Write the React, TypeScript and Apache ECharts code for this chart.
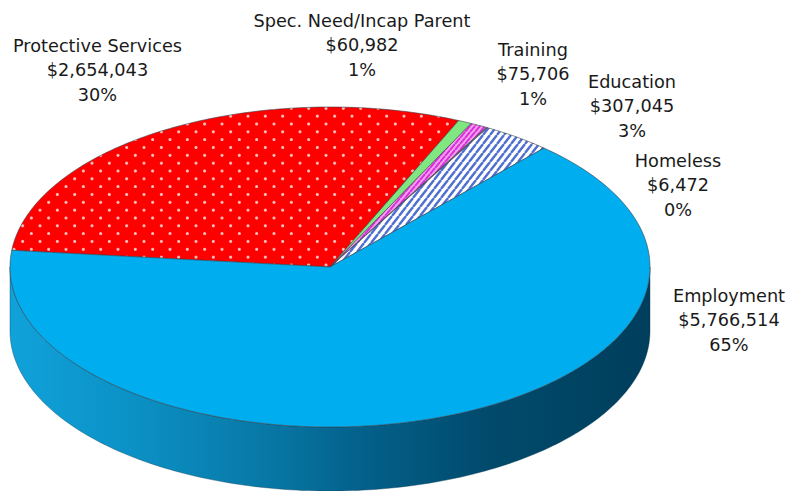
import React, { useEffect, useRef } from "react";
import * as echarts from "echarts";

const categories = ["Protective Services", "Spec. Need/Incap Parent", "Training", "Homeless", "Education", "Employment"];
const values = [2654043, 60982, 75706, 6472, 307045, 5766514];

const CX = 330, CY = 267, RX = 320, RY = 160, DEPTH = 64, START_DEG = 174;
const FONT = "'DejaVu Sans', sans-serif";
const LABEL_POS: Record<string, [number, number]> = {
  "Protective Services": [97.5, 70],
  "Spec. Need/Incap Parent": [362, 45],
  "Training": [533, 74],
  "Education": [632, 106],
  "Homeless": [678, 185],
  "Employment": [729, 320],
};

function tile(w: number, h: number, draw: (c: CanvasRenderingContext2D) => void) {
  const cv = document.createElement("canvas");
  cv.width = w; cv.height = h;
  draw(cv.getContext("2d")!);
  return { image: cv, repeat: "repeat", imageWidth: w, imageHeight: h } as any;
}
function dots() {
  return tile(52, 47, (c) => {
    c.fillStyle = "#ff0000"; c.fillRect(0, 0, 52, 47);
    for (let row = 0; row < 6; row++) {
      const y = (14.33 + row * 7.833) % 47;
      for (let col = 0; col < 3; col++) {
        const x = (14 + (row % 2) * 8.67 + col * 17.33) % 52;
        const g = c.createRadialGradient(x, y, 0, x, y, 2.3);
        g.addColorStop(0, "#ffdada");
        g.addColorStop(0.55, "#ff9c9c");
        g.addColorStop(1, "rgba(255,0,0,0)");
        c.fillStyle = g;
        c.beginPath(); c.arc(x, y, 2.3, 0, Math.PI * 2); c.fill();
      }
    }
  });
}
function stripes(bg: string, fg: string, w: number, h: number, lw: number) {
  return tile(w, h, (c) => {
    c.fillStyle = bg; c.fillRect(0, 0, w, h);
    c.strokeStyle = fg; c.lineWidth = lw;
    for (let k = -2 * w; k <= w * 2; k += w) {
      c.beginPath(); c.moveTo(k, h); c.lineTo(k + w, 0); c.stroke();
    }
  });
}

function arcPoints(a0: number, a1: number, dy = 0) {
  const n = Math.max(2, Math.ceil(Math.abs(a1 - a0) / 1));
  const pts: number[][] = [];
  for (let i = 0; i <= n; i++) {
    const t = ((a0 + ((a1 - a0) * i) / n) * Math.PI) / 180;
    pts.push([CX + RX * Math.cos(t), CY - RY * Math.sin(t) + dy]);
  }
  return pts;
}

export default function App() {
  const ref = useRef<HTMLDivElement>(null);
  useEffect(() => {
    const chart = echarts.init(ref.current!, undefined, { renderer: "svg" });
    const total = values.reduce((a, b) => a + b, 0);
    const fills: Record<string, any> = {
      "Protective Services": dots(),
      "Spec. Need/Incap Parent": "#80e680",
      "Training": stripes("#f4a0f0", "#d830d8", 5, 6, 2),
      "Homeless": "#6b6b78",
      "Education": stripes("#ffffff", "#4f6fd0", 7, 9, 2.4),
      "Employment": "#00aeef",
    };
    const money = (v: number) => "$" + v.toLocaleString("en-US");
    chart.setOption({
      animation: false,
      backgroundColor: "#ffffff",
      series: [
        {
          type: "custom",
          coordinateSystem: "none",
          silent: true,
          data: [total],
          renderItem: () => {
            const top = arcPoints(180, 360, 0);
            const bottom = arcPoints(360, 180, DEPTH);
            return {
              type: "polygon",
              shape: { points: [...top, ...bottom] },
              style: {
                stroke: "#0b3c55",
                lineWidth: 0.4,
                fill: new echarts.graphic.LinearGradient(0, 0, 1, 0, [
                  { offset: 0, color: "#10a2da" },
                  { offset: 0.2, color: "#0b90c4" },
                  { offset: 0.4, color: "#0878a6" },
                  { offset: 0.55, color: "#03608a" },
                  { offset: 0.75, color: "#014a6c" },
                  { offset: 1, color: "#003e5c" },
                ]),
              },
            };
          },
        },
        {
          type: "custom",
          coordinateSystem: "none",
          silent: true,
          data: values,
          renderItem: (params: any, api: any) => {
            const i = params.dataIndex;
            const before = values.slice(0, i).reduce((a, b) => a + b, 0);
            const v = api.value(0);
            const a0 = START_DEG - (before / total) * 360;
            const a1 = a0 - (v / total) * 360;
            const name = categories[i];
            return {
              type: "polygon",
              shape: { points: [[CX, CY], ...arcPoints(a0, a1)] },
              style: { fill: fills[name], stroke: "#3a3f4a", lineWidth: 0.6, lineJoin: "round" },
            };
          },
        },
        {
          type: "custom",
          coordinateSystem: "none",
          silent: true,
          data: values,
          renderItem: (params: any, api: any) => {
            const name = categories[params.dataIndex];
            const v = api.value(0);
            const [x, y] = LABEL_POS[name];
            return {
              type: "text",
              x,
              y,
              style: {
                text: `${name}\n${money(v)}\n${Math.round((v / total) * 100)}%`,
                fill: "#1a1a1a",
                font: `17.7px ${FONT}`,
                lineHeight: 24.5,
                align: "center",
                verticalAlign: "middle",
              },
            };
          },
        },
      ],
    });
    return () => chart.dispose();
  }, []);
  return <div ref={ref} style={{ position: "absolute", left: 0, top: 0, width: 788, height: 491 }} />;
}
